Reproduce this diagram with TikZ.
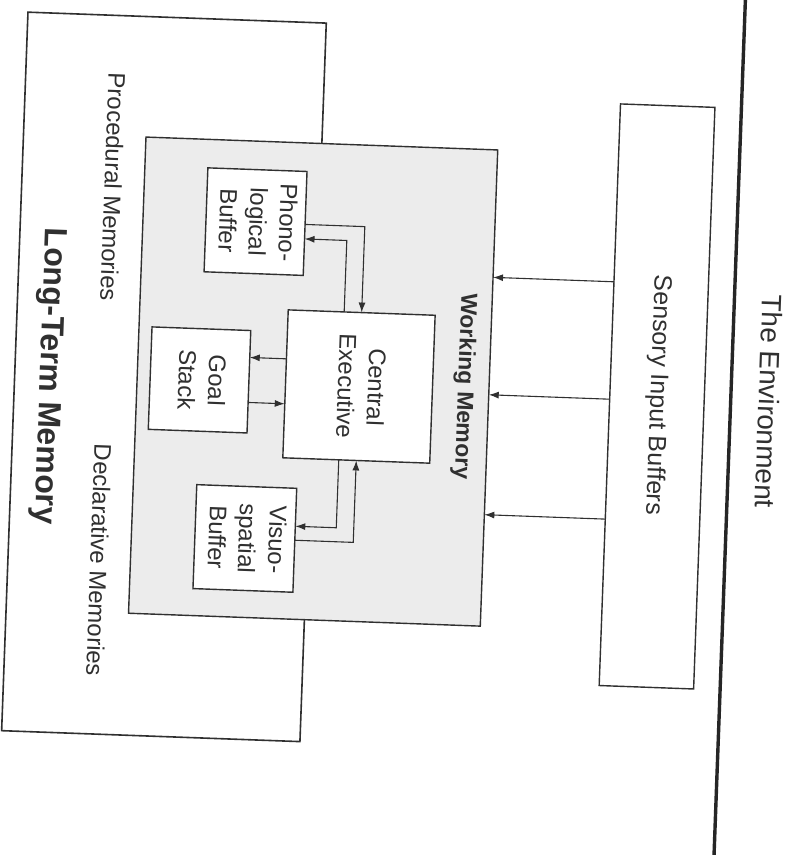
\documentclass[tikz,border=0pt]{standalone}
\usepackage{fontspec}
\setmainfont{Liberation Sans}
\usetikzlibrary{arrows.meta}
\definecolor{ink}{HTML}{303030}
\definecolor{wmfill}{HTML}{ECECEC}
\newcommand{\vtxt}[1]{\rotatebox{-90}{\begin{tabular}{@{}c@{}}#1\end{tabular}}}
\begin{document}
\begin{tikzpicture}[x=1pt,y=-1pt,
  font=\fontsize{24}{30}\selectfont, text=ink,
  box/.style={draw=ink, line width=1.4pt, inner sep=0pt, outer sep=0pt, fill=white},
  lbl/.style={rotate=-90, inner sep=0pt, outer sep=0pt},
  arr/.style={draw=ink, line width=1.1pt, -{Latex[length=10pt,width=7pt]}}]
\useasboundingbox[fill=white] (0,0) rectangle (797,855);
\begin{scope}[rotate around={-2.1:(398.5,427.5)}, transform shape]
  % Long-term memory
  \node[box, line width=1.6pt, minimum width=298.5pt, minimum height=719pt] (ltm) at (162.25,385.5) {};
  \node[lbl] (proc) at (104.4,197.6) {Procedural Memories};
  \node[lbl] (decl) at (104,571) {Declarative Memories};
  \node[lbl, font=\fontsize{32}{38}\selectfont\bfseries] (ltmt) at (46.3,389) {Long-Term Memory};
  % Working memory
  \node[box, fill=wmfill, minimum width=352pt, minimum height=476.5pt] (wm) at (311.5,384.75) {};
  \node[lbl, font=\fontsize{23}{28}\selectfont\bfseries] (wmt) at (462.5,384) {Working Memory};
  \node[box, minimum width=99.2pt, minimum height=104pt] (phono) at (248.1,227) {\vtxt{Phono-\\logical\\Buffer}};
  \node[box, minimum width=98.8pt, minimum height=102.5pt] (goal) at (197.9,387.25) {\vtxt{Goal\\Stack}};
  \node[box, minimum width=147pt, minimum height=148pt] (ce) at (357.5,388) {\vtxt{Central\\Executive}};
  \node[box, minimum width=100pt, minimum height=104pt] (visuo) at (249,544) {\vtxt{Visuo-\\spatial\\Buffer}};
  % Sensory buffers
  \node[box, minimum width=94.5pt, minimum height=582pt] (sens) at (655.75,387) {};
  \node[lbl, font=\fontsize{25}{30}\selectfont] (senst) at (655.6,385.6) {Sensory Input Buffers};
  % Environment
  \node[lbl, font=\fontsize{28}{34}\selectfont] (env) at (767.8,388) {The Environment};
  \draw[line width=3.4pt, draw=black!85] (729.5,-40) -- (729.5,900);
  % helper coordinates
  \coordinate (k1) at (357,228);
  \coordinate (k2) at (340,242.5);
  \coordinate (k3) at (340,530);
  \coordinate (k4) at (357,544);
  \coordinate (k5) at (0,363);
  \coordinate (k6) at (0,408);
  \coordinate (s1) at (0,274);
  \coordinate (s2) at (0,391.5);
  \coordinate (s3) at (0,511.5);
  % connectors
  \draw[arr] (phono.east |- k1) -| (ce.north);
  \draw[arr] (ce.north -| k2) |- (phono.east |- k2);
  \draw[arr] (ce.south -| k3) |- (visuo.east |- k3);
  \draw[arr] (visuo.east |- k4) -| (ce.south);
  \draw[arr] (ce.west |- k5) -- (goal.east |- k5);
  \draw[arr] (goal.east |- k6) -- (ce.west |- k6);
  \draw[arr] (sens.west |- s1) -- (wm.east |- s1);
  \draw[arr] (sens.west |- s2) -- (wm.east |- s2);
  \draw[arr] (sens.west |- s3) -- (wm.east |- s3);
\end{scope}
\end{tikzpicture}
\end{document}
